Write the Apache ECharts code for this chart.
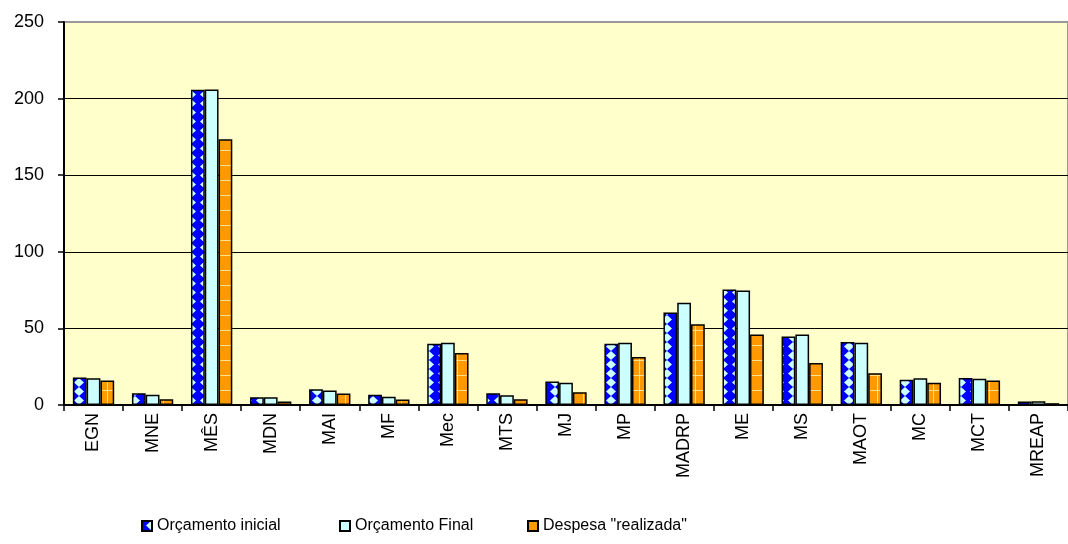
<!DOCTYPE html>
<html>
<head>
<meta charset="utf-8">
<title>Orçamento</title>
<script src="https://cdn.jsdelivr.net/npm/echarts@6/dist/echarts.min.js"></script>
<style>
    html,body{margin:0;padding:0;background:#fff;}
    #main{width:1068px;height:544px;}
</style>
</head>
<body>
<div id="main"></div>
<script>
// dados
var categorias = ['EGN','MNE','MÊS','MDN','MAI','MF','Mec','MTS','MJ','MP','MADRP','ME','MS','MAOT','MC','MCT','MREAP'];
var orcInicial = [18, 7.7, 205.8, 5.1, 10.3, 6.7, 40, 7.7, 15.4, 40, 60.4, 75.4, 44.7, 41.1, 16.5, 17.6, 2.3];
var orcFinal   = [17.4, 6.7, 206, 5, 9.5, 5.4, 40.7, 6.4, 14.5, 40.7, 66.7, 74.8, 46, 40.7, 17.4, 17.1, 2.4];
var despesa    = [16, 3.8, 173.5, 2.3, 7.5, 3.6, 34, 3.8, 8.4, 31.3, 52.7, 46, 27.4, 20.8, 14.5, 16, 1.2];
var yTicks = [0, 50, 100, 150, 200, 250];

var FONTE = 'Liberation Sans, Arial, sans-serif';

// padrão azul com losangos
function padraoInicial(){
    var c = document.createElement('canvas');
    c.width = 14; c.height = 9;
    var ctx = c.getContext('2d');
    ctx.fillStyle = '#0000FF';
    ctx.fillRect(0,0,14,9);
    ctx.fillStyle = '#CCFFFF';
    ctx.beginPath();
    ctx.moveTo(9,0);
    ctx.lineTo(14,4.5);
    ctx.lineTo(9,9);
    ctx.lineTo(4,4.5);
    ctx.closePath();
    ctx.fill();
    return c;
}
// padrão laranja com grelha clara
function padraoDespesa(){
    var c = document.createElement('canvas');
    c.width = 14; c.height = 15;
    var ctx = c.getContext('2d');
    ctx.fillStyle = '#FF9900';
    ctx.fillRect(0,0,14,15);
    ctx.fillStyle = '#FFE08A';
    ctx.fillRect(0,0,14,1);
    ctx.fillRect(9,0,1,15);
    return c;
}

var myChart = echarts.init(document.getElementById('main'));

function legenda(nome, left){
    return {
        data: [nome],
        left: left,
        top: 513,
        icon: 'rect',
        itemWidth: 10,
        itemHeight: 10,
        itemGap: 5,
        textStyle: {color:'#000', fontSize:16, fontFamily:FONTE}
    };
}

// linhas de grelha pretas, a de cima cinzenta (borda da área)
var coresGrelha = yTicks.map(function(v, i){ return i == yTicks.length-1 ? '#999999' : '#000000'; });

var option = {
    animation: false,
    legend: [
        legenda('Orçamento inicial', 136),
        legenda('Orçamento Final', 334),
        legenda('Despesa "realizada"', 522)
    ],
    grid: {
        left: 64,
        right: -3,
        top: 22,
        bottom: 139,
        show: true,
        backgroundColor: '#FFFFCC',
        borderColor: '#999999',
        borderWidth: 2
    },
    xAxis: {
        type: 'category',
        data: categorias,
        axisLine: {lineStyle:{color:'#000', width:2}},
        axisTick: {show:true, length:6, lineStyle:{color:'#000', width:1.5}},
        axisLabel: {rotate:90, margin:8, color:'#000', fontSize:18, fontFamily:FONTE}
    },
    yAxis: {
        type: 'value',
        min: yTicks[0],
        max: yTicks[yTicks.length-1],
        interval: 50,
        axisLine: {show:true, lineStyle:{color:'#000', width:2}},
        axisTick: {show:true, length:6, lineStyle:{color:'#000', width:1.5}},
        axisLabel: {margin:20, color:'#000', fontSize:18, fontFamily:FONTE},
        splitLine: {lineStyle:{color:coresGrelha, width:1}}
    },
    series: [{
        name: 'Orçamento inicial',
        type: 'bar',
        data: orcInicial,
        barGap: '0%',
        barCategoryGap: '30%',
        itemStyle: {color:{image:padraoInicial(), repeat:'repeat'}, borderColor:'#000', borderWidth:1.5}
    },{
        name: 'Orçamento Final',
        type: 'bar',
        data: orcFinal,
        itemStyle: {color:'#CCFFFF', borderColor:'#000', borderWidth:1.5}
    },{
        name: 'Despesa "realizada"',
        type: 'bar',
        data: despesa,
        itemStyle: {color:{image:padraoDespesa(), repeat:'repeat'}, borderColor:'#000', borderWidth:1.5}
    }]
};
myChart.setOption(option);
</script>
</body>
</html>
